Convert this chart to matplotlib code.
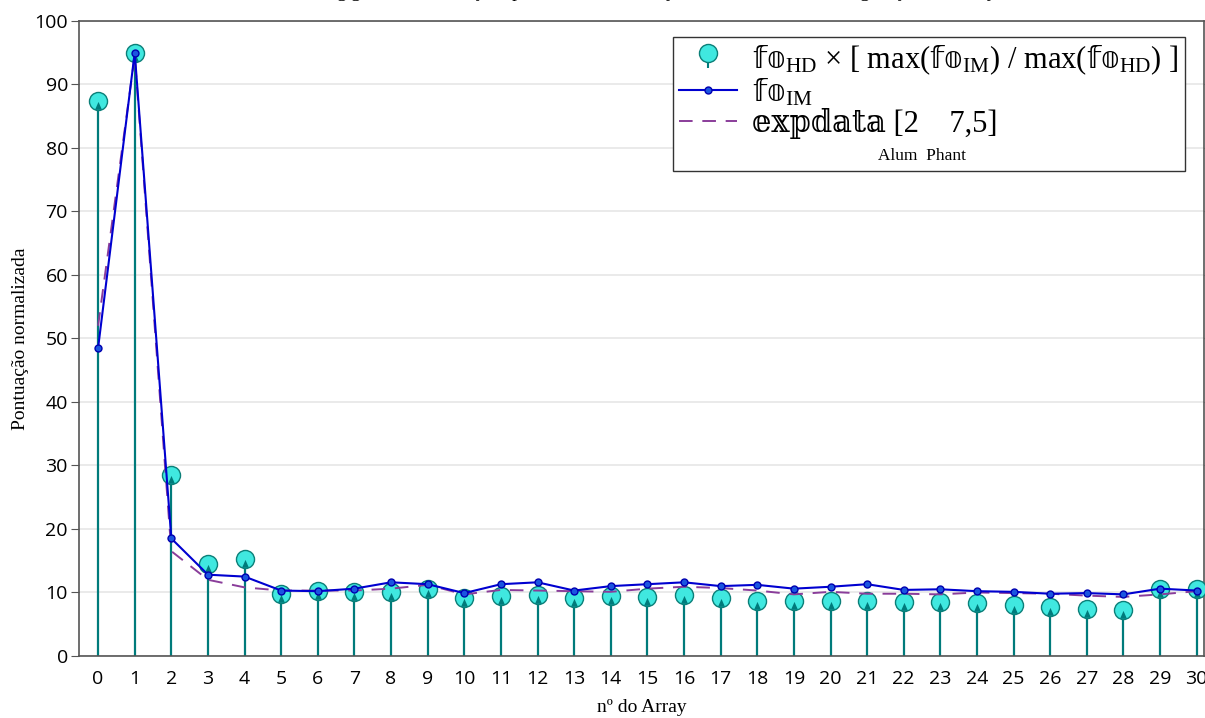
import matplotlib
matplotlib.use("Agg")
import matplotlib.pyplot as plt
from matplotlib.ticker import MultipleLocator
from matplotlib.lines import Line2D

array_idx = list(range(31))
fo_hd_scaled = [87.4, 95.0, 28.5, 14.5, 15.2, 9.7, 10.2, 10.1, 10.1, 10.5,
                9.1, 9.5, 9.6, 9.2, 9.5, 9.3, 9.6, 9.2, 8.7, 8.7,
                8.6, 8.6, 8.5, 8.5, 8.4, 8.0, 7.7, 7.4, 7.3, 10.5, 10.5]
fo_im = [48.5, 95.0, 18.5, 12.8, 12.5, 10.3, 10.2, 10.6, 11.6, 11.3,
         9.9, 11.3, 11.6, 10.3, 11.0, 11.3, 11.6, 11.0, 11.2, 10.6,
         10.9, 11.3, 10.4, 10.5, 10.2, 10.1, 9.8, 9.9, 9.7, 10.6, 10.3]
expdata = [52.0, 94.5, 16.5, 12.0, 10.8, 10.3, 10.3, 10.3, 10.6, 11.2,
           9.7, 10.4, 10.3, 10.2, 10.1, 10.6, 10.9, 10.7, 10.3, 9.7,
           10.1, 9.8, 9.8, 9.7, 10.0, 9.9, 9.8, 9.5, 9.3, 9.7, 10.2]

plt.rcParams['mathtext.fontset'] = 'custom'
plt.rcParams['mathtext.rm'] = 'Liberation Serif'
plt.rcParams['mathtext.it'] = 'Liberation Serif:italic'
plt.rcParams['mathtext.bf'] = 'Liberation Serif:bold'
plt.rcParams['mathtext.sf'] = 'DejaVu Sans'

serif = ['Liberation Serif', 'DejaVu Serif', 'DejaVu Sans']
sans = ['Open Sans', 'DejaVu Sans']

fig = plt.figure(figsize=(12.05, 7.18), dpi=100)
ax = fig.add_axes([0.0656, 0.0864, 0.9336, 0.8844])

teal = '#007b7b'
cyan = '#40e8e0'

# stems
stem = ax.stem(array_idx, fo_hd_scaled, linefmt='-', markerfmt='o', basefmt=' ')
stem.stemlines.set_color(teal)
stem.stemlines.set_linewidth(1.6)
stem.markerline.set_markersize(13)
stem.markerline.set_markerfacecolor(cyan)
stem.markerline.set_markeredgecolor('#0b7f78')
stem.markerline.set_markeredgewidth(1.0)
stem.markerline.set_zorder(3)
arrow = [(-0.42, -1.0), (0.42, -1.0), (0.0, -0.05)]
ax.plot(array_idx, fo_hd_scaled, linestyle='none', marker=arrow, markersize=12,
        color=teal, markeredgewidth=0, zorder=3.5)

# fo_IM line
ln_im, = ax.plot(array_idx, fo_im, '-', color='#0000d0', lw=1.5, marker='o',
                 markersize=5, markerfacecolor='#1a55e0', markeredgecolor='#0000b0',
                 markeredgewidth=1.0, zorder=4)

# expdata dashed
ln_exp, = ax.plot(array_idx, expdata, color='#8a3d9a', lw=1.4,
                  dashes=(7, 5), zorder=3.8)

ax.set_xlim(-0.52, 30.2)
ax.set_ylim(0, 100)
ax.xaxis.set_major_locator(MultipleLocator(1))
ax.xaxis.set_minor_locator(MultipleLocator(5))
ax.yaxis.set_major_locator(MultipleLocator(10))

ax.grid(True, which='major', axis='y', color='#e6e6e6', lw=1.2)
ax.grid(True, which='minor', axis='x', color='#eeeeee', lw=1.0)
ax.set_axisbelow(True)

ax.tick_params(axis='x', which='both', length=0, pad=10, labelsize=14)
ax.tick_params(axis='y', which='major', length=6, direction='out', labelsize=14,
               color='#555555', right=True, pad=2)
for lab in ax.get_xticklabels() + ax.get_yticklabels():
    lab.set_fontfamily(sans)

for s in ['left', 'top', 'bottom', 'right']:
    ax.spines[s].set_color('#555555')
    ax.spines[s].set_linewidth(1.2)

ax.set_xlabel('nº do Array', family=serif, fontsize=14, labelpad=8)
ax.set_ylabel('Pontuação normalizada', family=serif, fontsize=14, labelpad=4)

FO = r'\mathsf{𝕗𝕠}'

# partially visible title (clipped by the top of the figure, as in the reference)
fig.text(0.53, 1.004, 'Ranking geral das avaliações para $' + FO + r'_{\mathrm{HD}}$, $'
         + FO + r'_{\mathrm{IM}}$ e ajuste do modelo na configuração do Array',
         ha='center', va='baseline', family=serif, fontsize=14)

lab1 = ('$' + FO + r'_{\mathrm{HD}}$ × [ max($' + FO + r'_{\mathrm{IM}}$) / max($'
        + FO + r'_{\mathrm{HD}}$) ]')
lab2 = '$' + FO + r'_{\mathrm{IM}}$'
lab3 = '𝕖𝕩𝕡𝕕𝕒𝕥𝕒 [2    7,5]'
blank = Line2D([], [], linestyle='none')
lab4 = '                             Alum  Phant'
leg = ax.legend([stem, ln_im, ln_exp, blank], [lab1, lab2, lab3, lab4],
                loc='upper right', bbox_to_anchor=(0.983, 0.975), numpoints=1,
                fancybox=False, edgecolor='#333333', framealpha=1,
                handlelength=1.9, handletextpad=0.5, labelspacing=0.0,
                borderpad=0.2, borderaxespad=0,
                prop={'family': serif, 'size': 22})
leg.get_frame().set_linewidth(1.0)
leg.set_zorder(10)
t4 = leg.get_texts()[3]
t4.set_fontsize(12.5)

fig.savefig('out.png', dpi=100)
